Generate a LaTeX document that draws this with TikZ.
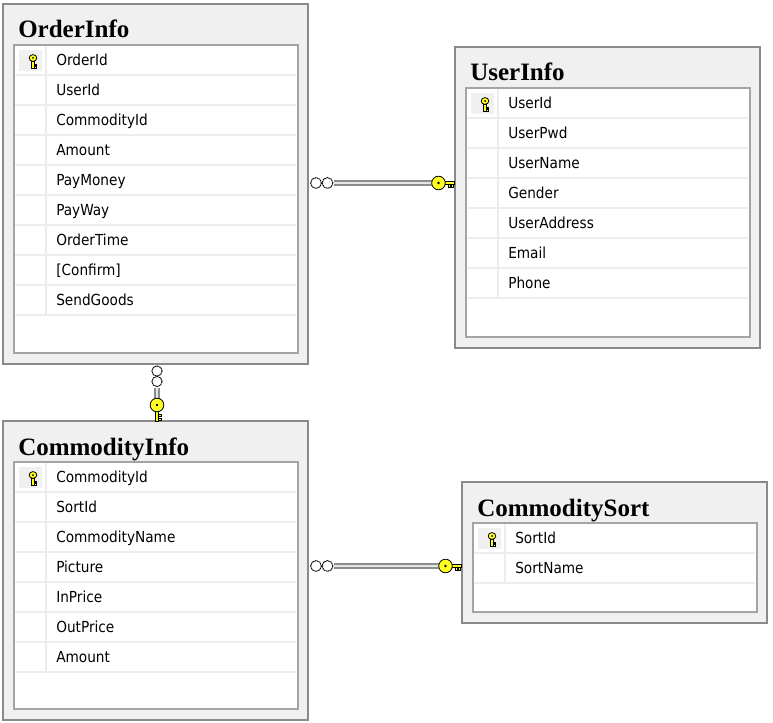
\documentclass[tikz,border=0pt]{standalone}
\usepackage{fontspec}
\usetikzlibrary{calc}
\newfontfamily\rowfont{DejaVu Sans Condensed}
\newfontfamily\titlefont{Liberation Serif}
\definecolor{boxfill}{HTML}{F0F0F0}
\definecolor{outerline}{HTML}{8A8A8A}
\definecolor{innerline}{HTML}{A4A4A4}
\definecolor{sepline}{HTML}{EDEDED}
\definecolor{keyyellow}{HTML}{FFFF20}
\definecolor{rowink}{HTML}{000000}
\definecolor{tubedark}{HTML}{8C8C8C}
\definecolor{tubelight}{HTML}{E6E6E6}
\tikzset{
  x=0.75pt, y=-0.75pt,
  outerbox/.style={draw=outerline, fill=boxfill, line width=1.1pt, inner sep=0pt, outer sep=0pt},
  innerbox/.style={draw=innerline, fill=white, line width=1.1pt, inner sep=0pt, outer sep=0pt},
  rowsep/.style={draw=sepline, line width=1.1pt},
  keycell/.style={fill=boxfill},
  titletext/.style={font=\titlefont\bfseries\fontsize{18.75}{20}\selectfont, inner sep=0pt, text=black},
  rowtext/.style={font=\rowfont\fontsize{11.4}{13}\selectfont, inner sep=0pt, text=rowink},
  keyol/.style={draw=black, fill=keyyellow, line width=0.6pt},
  infcirc/.style={draw=black, fill=white, line width=0.7pt, dash pattern=on 1.2pt off 0.4pt},
  tube/.style={draw=tubedark, line width=1.1pt, double=tubelight, double distance=2pt},
  tkey/.pic={
    \draw[keyol] (-1.5,-1) rectangle (1.3,6.5);
    \draw[keyol] (1.3,2.3) rectangle (3.2,3.8);
    \draw[keyol] (1.3,4.8) rectangle (3.2,6.3);
    \draw[keyol] (0,-4) ellipse[x radius=3.8, y radius=3.4];
    \fill[black] (0,-4) circle[radius=1];
  },
  hkey/.pic={
    \draw[keyol] (5,-1.7) rectangle (16,1.7);
    \draw[keyol] (9.5,1.7) rectangle (11.5,4.3);
    \draw[keyol] (13,1.7) rectangle (15,4.3);
    \draw[keyol] (0,0) circle[radius=6.8];
    \fill[black] (0,0) circle[radius=1.4];
  },
  vkey/.pic={
    \draw[keyol] (-1.7,5) rectangle (1.7,16);
    \draw[keyol] (1.7,9.5) rectangle (4.3,11.5);
    \draw[keyol] (1.7,13) rectangle (4.3,15);
    \draw[keyol] (0,0) circle[radius=6.8];
    \fill[black] (0,0) circle[radius=1.4];
  }
}
\newcommand\dbtable[7]{%
  \pgfmathsetmacro\dbw{(#4-#2)*0.75}%
  \pgfmathsetmacro\dbh{(#5-#3)*0.75}%
  \pgfmathsetmacro\dbiw{(#4-#2-21)*0.75}%
  \pgfmathsetmacro\dbih{(#5-#3-52)*0.75}%
  \node[outerbox, anchor=north west, minimum width=\dbw pt, minimum height=\dbh pt] (#1) at (#2,#3) {};
  \node[innerbox, anchor=north west, minimum width=\dbiw pt, minimum height=\dbih pt] (#1-in) at (#2+11,#3+41) {};
  \node[titletext, anchor=base west] (#1-title) at (#2+15,#3+34) {#6};
  \fill[keycell] (#2+16,#3+46) rectangle (#2+39,#3+67);
  \pic at (#2+30,#3+58) {tkey};
  \foreach \txt [count=\i] in {#7} {
    \draw[rowsep] (#2+12,#3+41+30*\i) -- (#4-12,#3+41+30*\i);
    \draw[rowsep] (#2+43,#3+12+30*\i) -- (#2+43,#3+40+30*\i);
    \node[rowtext, anchor=base west] (#1-r\i) at (#2+53,#3+31.5+30*\i) {\txt};
  }
}
\begin{document}
\begin{tikzpicture}
\useasboundingbox (0,0) rectangle (773,723);
\fill[white] (0,0) rectangle (773,723);

\dbtable{order}{3}{4}{308}{364}{OrderInfo}{OrderId,UserId,CommodityId,Amount,PayMoney,PayWay,OrderTime,[Confirm],SendGoods}
\dbtable{user}{455}{47}{760}{348}{UserInfo}{UserId,UserPwd,UserName,Gender,UserAddress,Email,Phone}
\dbtable{cinfo}{3}{421}{308}{720}{CommodityInfo}{CommodityId,SortId,CommodityName,Picture,InPrice,OutPrice,Amount}
\dbtable{csort}{462}{482}{767}{623}{CommoditySort}{SortId,SortName}

% OrderInfo -- UserInfo
\coordinate (r1s) at (order.east |- 0,183);
\coordinate (r1e) at (user.west |- 0,183);
\draw[tube, shorten <=19.5pt, shorten >=16.5pt] (r1s) -- (r1e);
\draw[infcirc] ($(r1s)+(8,0)$) circle[radius=5.4];
\draw[infcirc] ($(r1s)+(19.5,0)$) circle[radius=5.4];
\pic at ($(r1e)+(-16.5,0)$) {hkey};

% CommodityInfo -- CommoditySort
\coordinate (r3s) at (cinfo.east |- 0,566);
\coordinate (r3e) at (csort.west |- 0,566);
\draw[tube, shorten <=19.5pt, shorten >=16.5pt] (r3s) -- (r3e);
\draw[infcirc] ($(r3s)+(8,0)$) circle[radius=5.4];
\draw[infcirc] ($(r3s)+(19.5,0)$) circle[radius=5.4];
\pic at ($(r3e)+(-16.5,0)$) {hkey};

% OrderInfo -- CommodityInfo
\coordinate (r2s) at (order.south -| 157,0);
\coordinate (r2e) at (cinfo.north -| 157,0);
\draw[tube, shorten <=18pt, shorten >=16.5pt] (r2s) -- (r2e);
\draw[infcirc] ($(r2s)+(0,7)$) circle[radius=5.1];
\draw[infcirc] ($(r2s)+(0,17.5)$) circle[radius=5.1];
\pic at ($(r2e)+(0,-16)$) {vkey};
\end{tikzpicture}
\end{document}
